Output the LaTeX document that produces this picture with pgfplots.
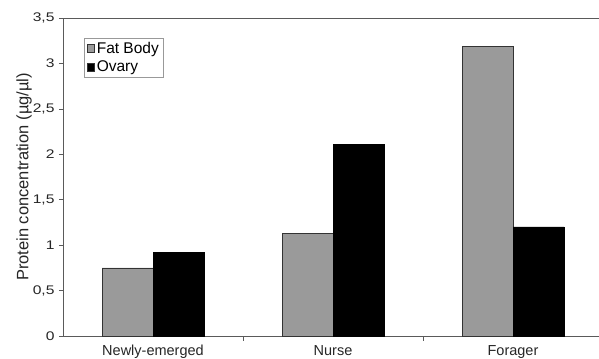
\documentclass[border=0pt]{standalone}
\usepackage{pgfplots}
\pgfplotsset{compat=1.18}
\usepackage{fontspec}
\setmainfont{Liberation Sans}
\newfontfamily\widesans[FakeStretch=1.25]{Liberation Sans}
\definecolor{fatgray}{HTML}{9A9A9A}
\definecolor{axgray}{HTML}{5A5A5A}
\begin{document}
\begin{tikzpicture}
\begin{axis}[
  name=ax,
  scale only axis,
  width=540bp, height=318bp,
  xmin=-0.5, xmax=2.5,
  ymin=0, ymax=3.5,
  ybar=0pt, bar width=51bp,
  axis x line*=bottom, axis y line*=left,
  axis line style={draw=axgray, line width=0.8pt},
  xtick={0,1,2},
  xticklabels={Newly-emerged,Nurse,Forager},
  major x tick style={draw=none},
  minor xtick={0.5,1.5},
  minor x tick style={draw=axgray, line width=0.6pt},
  minor tick length=5bp,
  ytick={0,0.5,1,1.5,2,2.5,3,3.5},
  y tick style={draw=axgray, line width=0.6pt},
  major tick length=4bp,
  tick align=outside,
  /pgf/number format/use comma,
  /pgf/number format/fixed,
  /pgf/number format/assume math mode=true,
  yticklabel style={font=\widesans\fontsize{12.5bp}{14bp}\selectfont, text=black!85, xshift=-1bp},
  xticklabel style={font=\fontsize{14.5bp}{16bp}\selectfont, text=black!85, yshift=-4bp, inner sep=1bp},
  ylabel={Protein concentration (µg/µl)},
  ylabel style={font=\fontsize{16.5bp}{18bp}\selectfont, text=black!85, yshift=-6bp},
  legend style={at={(rel axis cs:0.039,0.937)}, anchor=north west,
    draw=gray!80, line width=0.5pt, font=\fontsize{15.5bp}{17bp}\selectfont,
    inner xsep=2.5bp, inner ysep=1.5bp, row sep=2.5bp, cells={anchor=west}},
  legend image code/.code={\draw[#1, draw=black!80, line width=0.5pt] (0bp,-3.8bp) rectangle (7.5bp,3.8bp);},
]
\addplot[fill=fatgray, draw=black!80, line width=0.6pt] coordinates {(0,0.75) (1,1.13) (2,3.19)};
\addplot[fill=black, draw=black, line width=0.6pt] coordinates {(0,0.92) (1,2.11) (2,1.20)};
\legend{Fat Body, Ovary}
\draw[axgray, line width=0.8pt] (rel axis cs:0,1) -- (rel axis cs:1,1);
\end{axis}
\pgfresetboundingbox
\path[use as bounding box] ([xshift=-63bp,yshift=-23bp]ax.south west) rectangle ([xshift=536bp,yshift=18bp]ax.north west);
\end{tikzpicture}
\end{document}
